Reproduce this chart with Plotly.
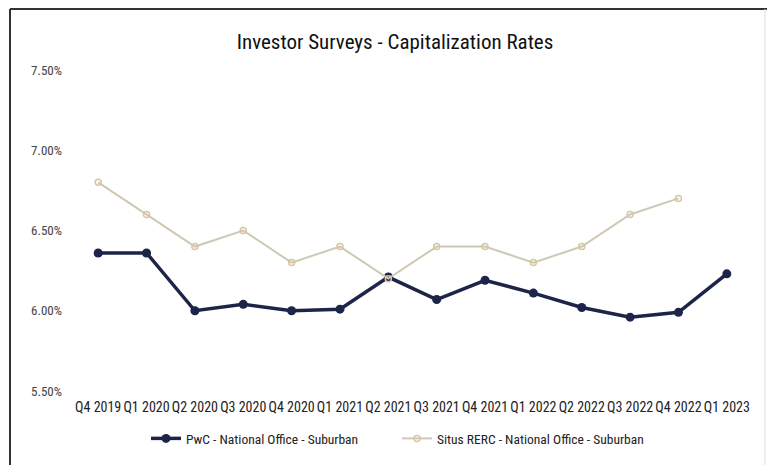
import plotly.graph_objects as go

quarters = ["Q4 2019", "Q1 2020", "Q2 2020", "Q3 2020", "Q4 2020", "Q1 2021", "Q2 2021",
            "Q3 2021", "Q4 2021", "Q1 2022", "Q2 2022", "Q3 2022", "Q4 2022", "Q1 2023"]
pwc = [6.36, 6.36, 6.00, 6.04, 6.00, 6.01, 6.21, 6.07, 6.19, 6.11, 6.02, 5.96, 5.99, 6.23]
situs = [6.80, 6.60, 6.40, 6.50, 6.30, 6.40, 6.20, 6.40, 6.40, 6.30, 6.40, 6.60, 6.70, None]
y_ticks = [5.5, 6.0, 6.5, 7.0, 7.5]
y_labels = ["5.50%", "6.00%", "6.50%", "7.00%", "7.50%"]

FONT = "Roboto Condensed, Liberation Sans Narrow, Roboto, sans-serif"

fig = go.Figure()
fig.add_trace(go.Scatter(
    x=quarters, y=pwc, mode="lines+markers",
    name="PwC - National Office - Suburban",
    line=dict(color="#1c2448", width=3.5),
    marker=dict(color="#1c2448", size=9),
))
fig.add_trace(go.Scatter(
    x=quarters, y=situs, mode="lines+markers",
    name="Situs RERC - National Office - Suburban",
    line=dict(color="#cfc8b4", width=2),
    marker=dict(color="#d8c6a0", size=6, symbol="circle-open", line=dict(width=1.5, color="#c9b38a")),
))

fig.update_layout(
    width=767, height=465,
    margin=dict(l=74, r=16, t=70, b=74, autoexpand=False),
    paper_bgcolor="white", plot_bgcolor="white",
    font=dict(family=FONT, color="#222222", size=12),
    title=dict(text="Investor Surveys - Capitalization Rates", x=0.515, xanchor="center",
               y=1 - 42 / 465, yanchor="middle",
               font=dict(family=FONT, size=21, color="#111111")),
    showlegend=True,
    legend=dict(orientation="h", x=(146 - 74) / 677, xanchor="left", y=-0.1, yanchor="top",
                font=dict(family=FONT, size=13.5, color="#222222"),
                entrywidth=206, entrywidthmode="pixels"),
    xaxis=dict(type="category", range=[-0.5, 13.5], showgrid=False, showline=False,
               zeroline=False, ticks="", ticklabelstandoff=6,
               tickfont=dict(family=FONT, size=14, color="#222222")),
    yaxis=dict(range=[5.5, 7.5], tickvals=y_ticks, ticktext=y_labels, showgrid=False,
               showline=False, zeroline=False, ticks="", ticklabelstandoff=11,
               tickfont=dict(family=FONT, size=13, color="#444444")),
    shapes=[
        dict(type="line", xref="paper", yref="paper", x0=-64 / 677, x1=-64 / 677,
             y0=-74 / 321, y1=(321 + 61) / 321, line=dict(color="#333333", width=2)),
        dict(type="line", xref="paper", yref="paper", x0=-64 / 677, x1=(677 + 16) / 677,
             y0=(321 + 61) / 321, y1=(321 + 61) / 321, line=dict(color="#333333", width=2)),
        dict(type="line", xref="paper", yref="paper", x0=(677 + 14) / 677, x1=(677 + 14) / 677,
             y0=-74 / 321, y1=(321 + 61) / 321, line=dict(color="#dddddd", width=1)),
    ],
)

fig.write_html("out.html")
